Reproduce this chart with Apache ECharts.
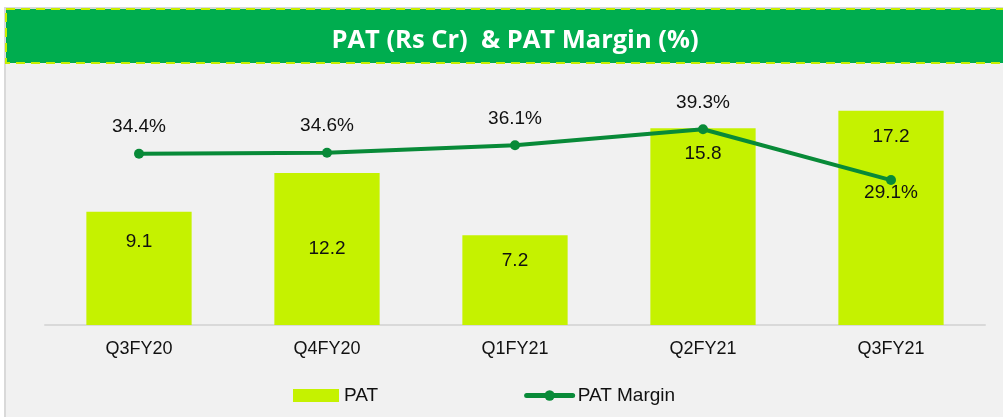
<!DOCTYPE html>
<html>
<head>
<meta charset="utf-8">
<script src="https://cdn.jsdelivr.net/npm/echarts@6/dist/echarts.min.js"></script>
<style>
  html, body { margin: 0; padding: 0; background: #fff; }
  #main { width: 1003px; height: 417px; }
</style>
</head>
<body>
<div id="main"></div>
<script>
var chartDom = document.getElementById('main');
var myChart = echarts.init(chartDom, null, { renderer: 'canvas' });

// data
var quarters = ['Q3FY20', 'Q4FY20', 'Q1FY21', 'Q2FY21', 'Q3FY21'];
var patValues = [9.1, 12.2, 7.2, 15.8, 17.2];
var marginValues = [34.4, 34.6, 36.1, 39.3, 29.1];

var labelFont = 'Liberation Sans, Arial, sans-serif';

var barData = patValues.map(function (v, i) {
    var item = { value: v };
    if (i === 0) {
        item.label = { offset: [0, 5] };
    }
    if (i === 1) {
        item.label = { offset: [0, 50] };
    }
    return item;
});

var lineData = marginValues.map(function (v, i) {
    var item = { value: v };
    if (i === 4) {
        item.label = { position: 'bottom', distance: -2 };
    }
    return item;
});

var option = {
    backgroundColor: '#ffffff',
    animation: false,
    graphic: [
        {
            type: 'rect',
            z: -10,
            shape: { x: 5, y: 8, width: 1010, height: 420 },
            style: { fill: '#f1f1f1', stroke: '#d9d9d9', lineWidth: 2 }
        },
        {
            type: 'rect',
            z: -5,
            shape: { x: 6, y: 9, width: 1010, height: 54 },
            style: {
                fill: '#00ad4f',
                stroke: '#c8ef00',
                lineWidth: 2,
                lineDash: [9, 6]
            }
        }
    ],
    title: {
        text: 'PAT (Rs Cr)  & PAT Margin (%)',
        left: 510,
        top: 23,
        textAlign: 'center',
        textStyle: {
            color: '#ffffff',
            fontSize: 25.5,
            fontWeight: 'bold',
            fontFamily: 'Open Sans, sans-serif'
        }
    },
    legend: {
        bottom: 7,
        left: 288,
        itemGap: 146,
        itemWidth: 46,
        itemHeight: 13,
        textStyle: { fontSize: 19, color: '#111', fontFamily: labelFont },
        data: [
            { name: 'PAT', icon: 'rect' },
            { name: 'PAT Margin', lineStyle: { width: 5, cap: 'round' } }
        ]
    },
    grid: {
        left: 45,
        right: 18,
        top: 76,
        bottom: 92,
        containLabel: false
    },
    xAxis: {
        type: 'category',
        data: quarters,
        axisLine: { lineStyle: { color: '#d9d9d9', width: 2 } },
        axisTick: { show: false },
        axisLabel: {
            color: '#111',
            fontSize: 18,
            margin: 15,
            fontFamily: labelFont
        }
    },
    yAxis: [
        {
            type: 'value',
            min: 0,
            max: 20,
            show: false,
            splitLine: { show: false }
        },
        {
            type: 'value',
            min: 0,
            max: 50,
            show: false,
            splitLine: { show: false }
        }
    ],
    series: [
        {
            name: 'PAT',
            type: 'bar',
            data: barData,
            barCategoryGap: '44%',
            itemStyle: { color: '#c5f200' },
            label: {
                show: true,
                position: 'insideTop',
                distance: 16,
                color: '#111',
                fontSize: 19,
                fontFamily: labelFont
            }
        },
        {
            name: 'PAT Margin',
            type: 'line',
            yAxisIndex: 1,
            data: lineData,
            symbol: 'circle',
            symbolSize: 10,
            lineStyle: { color: '#088a38', width: 4, cap: 'round' },
            itemStyle: { color: '#088a38' },
            label: {
                show: true,
                position: 'top',
                distance: 12,
                color: '#111',
                fontSize: 19,
                fontFamily: labelFont,
                formatter: function (p) { return p.value.toFixed(1) + '%'; }
            }
        }
    ]
};

option && myChart.setOption(option);
</script>
</body>
</html>
